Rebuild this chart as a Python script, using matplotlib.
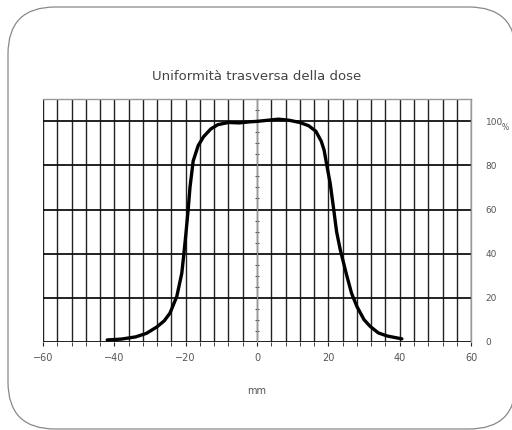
import numpy as np
import matplotlib.pyplot as plt
from matplotlib.patches import FancyBboxPatch
from matplotlib.ticker import MultipleLocator

# dose profile (mm, %)
pos_mm = [-42, -38, -34, -31, -28, -26, -24.4, -22.5, -21.1, -20.5, -20, -19.3,
          -18.8, -17.9, -16.5, -15, -13, -11, -8, -5, -2, 0, 3, 6, 9, 12, 14.5,
          16.5, 18, 18.8, 19.8, 20.5, 21.5, 22.3, 23.3, 25, 26.5, 28, 30, 31.7,
          34, 36.5, 40.6]
dose_pct = [0.8, 1.2, 2.2, 3.8, 6.8, 9.5, 13, 20.5, 31, 40, 48, 60,
            70, 82, 89, 93, 96.5, 98.5, 99.5, 99.3, 99.8, 100, 100.5, 101, 100.5, 99.5, 98,
            95.5, 91, 87, 78, 72, 60, 50, 42, 31, 22, 16, 10, 7,
            4, 2.6, 1.3]

x_ticks = [-60, -40, -20, 0, 20, 40, 60]
y_ticks = [0, 20, 40, 60, 80, 100]
y_labels = ["0", "20", "40", "60", "80", "100"]

fig = plt.figure(figsize=(5.12, 4.3), dpi=100)

# cornice arrotondata
box = FancyBboxPatch((0.08, 0.01), 5.08, 4.22, boxstyle="round,pad=0,rounding_size=0.47",
                     transform=fig.dpi_scale_trans, facecolor="white", edgecolor="#888888",
                     linewidth=0.9, zorder=-10)
fig.patches.append(box)

ax = fig.add_axes([0.084, 0.2053, 0.836, 0.5637])
ax.set_zorder(5)
ax.set_facecolor("none")
ax.set_xlim(-60, 60)
ax.set_ylim(0, 110)

# griglia
ax.set_xticks(x_ticks)
ax.xaxis.set_minor_locator(MultipleLocator(4))
ax.set_yticks(y_ticks)
ax.set_yticklabels(y_labels)
ax.yaxis.set_minor_locator(MultipleLocator(5))
ax.grid(True, which="both", axis="x", color="#222222", linewidth=1.0)
ax.grid(True, which="major", axis="y", color="#111111", linewidth=1.3)

for s in ["top", "right"]:
    ax.spines[s].set_color("#999999")
    ax.spines[s].set_linewidth(1.0)
ax.spines["bottom"].set_visible(False)
ax.spines["left"].set_position(("data", 0))
ax.spines["left"].set_color("#999999")
ax.spines["left"].set_linewidth(0.8)

ax.tick_params(axis="x", which="both", direction="out", length=3, color="#222222",
               labelsize=7, labelcolor="#555555", pad=5)
ax.tick_params(axis="y", which="major", left=False, right=False, labelleft=False,
               labelright=True, labelsize=6.5, labelcolor="#555555", pad=7)
ax.tick_params(axis="y", which="minor", left=True, right=False, direction="inout",
               length=3, color="#555555", width=0.8)

ax.plot(pos_mm, dose_pct, color="black", linewidth=2.4, zorder=5,
        solid_capstyle="round", solid_joinstyle="round")

ax.text(1.072, 0.885, "%", transform=ax.transAxes, fontsize=5.5, color="#555555",
        ha="left", va="center")

ax.set_title("Uniformità trasversa della dose", fontsize=9.5, color="#444444", pad=14)
ax.set_xlabel("mm", fontsize=7, color="#555555", labelpad=17)

fig.savefig("out.png", dpi=100)
